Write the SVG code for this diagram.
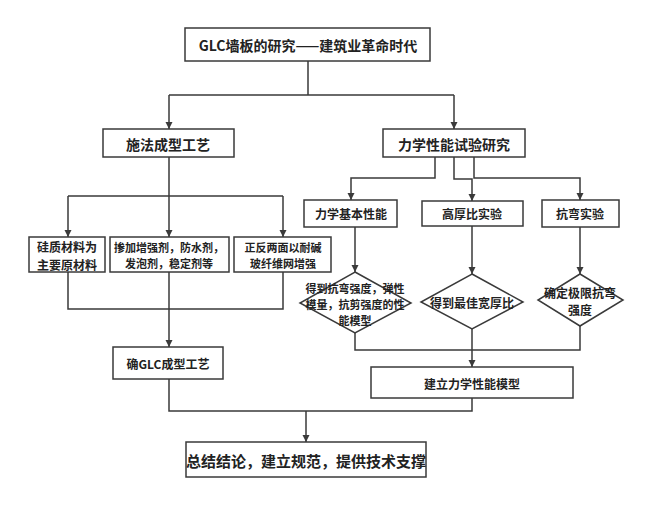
<svg xmlns="http://www.w3.org/2000/svg" width="660" height="514" viewBox="0 0 660 514">
<defs>
<marker id="ah" markerWidth="7" markerHeight="8" refX="7" refY="4" orient="auto" markerUnits="userSpaceOnUse">
<path d="M0,0.5 L7,4 L0,7.5 Z" fill="#3a3a3a"/>
</marker>
<style>
.box{fill:#fff;stroke:#3a3a3a;stroke-width:1.5}
.ln{fill:none;stroke:#3a3a3a;stroke-width:1.5}
.ar{fill:none;stroke:#3a3a3a;stroke-width:1.5;marker-end:url(#ah)}
text{font-family:"Noto Sans CJK SC","Noto Sans",sans-serif;font-weight:700;fill:#222;text-anchor:middle;dominant-baseline:central}
.t14{font-size:14px}
.t12{font-size:12px}
.t11{font-size:11px}
.t15{font-size:15px}
</style>
</defs>
<rect width="660" height="514" fill="#fff"/>
<g id="connectors">
<path class="ln" d="M308,61 V95 M169,95 H454"/>
<path class="ar" d="M169,95 V129"/>
<path class="ar" d="M454,95 V129"/>
<path class="ln" d="M169,157 V196 M68,196 H283"/>
<path class="ar" d="M68,196 V237"/>
<path class="ar" d="M169,196 V237"/>
<path class="ar" d="M283,196 V237"/>
<path class="ln" d="M68,272 V309 H283 V272"/>
<path class="ar" d="M169,272 V347"/>
<path class="ar" d="M435,157 V178 H351 V200"/>
<path class="ar" d="M454,157 V179 H472 V201"/>
<path class="ar" d="M474,157 V178 H580 V200"/>
<path class="ar" d="M355,227 V272"/>
<path class="ar" d="M472,226 V274"/>
<path class="ar" d="M580,227 V274"/>
<path class="ln" d="M355,333 V350 H580 V326"/>
<path class="ar" d="M472,329 V367"/>
<path class="ln" d="M169,379 V411 H472 V398"/>
<path class="ar" d="M306,411 V442"/>
</g>
<g id="n-title"><rect class="box" x="185" y="28" width="245" height="33"/><text class="t14" x="308" y="45">GLC墙板的研究——建筑业革命时代</text></g>
<g id="n-process"><rect class="box" x="103" y="129" width="131" height="28"/><text class="t14" x="168" y="143.5">施法成型工艺</text></g>
<g id="n-mech"><rect class="box" x="383" y="129" width="142" height="28"/><text class="t14" x="454" y="143.5">力学性能试验研究</text></g>
<g id="n-mat"><rect class="box" x="29" y="237" width="76" height="35"/><text class="t12"><tspan x="67" y="246">硅质材料为</tspan><tspan x="67" y="263.5">主要原材料</tspan></text></g>
<g id="n-add"><rect class="box" x="110" y="237" width="119" height="35"/><text class="t11"><tspan x="169" y="246.5">掺加增强剂，防水剂，</tspan><tspan x="169" y="262.5">发泡剂，稳定剂等</tspan></text></g>
<g id="n-mesh"><rect class="box" x="234" y="237" width="97" height="35"/><text class="t11"><tspan x="283" y="246.5">正反两面以耐碱</tspan><tspan x="283" y="262.5">玻纤维网增强</tspan></text></g>
<g id="n-basic"><rect class="box" x="304" y="200" width="93" height="27"/><text class="t12" x="351" y="213.5">力学基本性能</text></g>
<g id="n-ratio"><rect class="box" x="422" y="201" width="101" height="25"/><text class="t12" x="472" y="213.5">高厚比实验</text></g>
<g id="n-bend"><rect class="box" x="542" y="200" width="77" height="27"/><text class="t12" x="580" y="213.5">抗弯实验</text></g>
<g id="n-d1"><polygon class="box" points="355,272 411,303 355,333 300,303"/><text class="t11"><tspan x="355" y="287.5">得到抗弯强度，弹性</tspan><tspan x="355" y="303.5">模量，抗剪强度的性</tspan><tspan x="355" y="319.5">能模型</tspan></text></g>
<g id="n-d2"><polygon class="box" points="472,274 523,302 472,329 421,302"/><text class="t12" x="472" y="302">得到最佳宽厚比</text></g>
<g id="n-d3"><polygon class="box" points="580,274 623,300 580,326 538,300"/><text class="t12"><tspan x="580" y="291.5">确定极限抗弯</tspan><tspan x="580" y="309">强度</tspan></text></g>
<g id="n-glc"><rect class="box" x="113" y="347" width="110" height="32"/><text class="t12" x="168" y="363.5">确GLC成型工艺</text></g>
<g id="n-model"><rect class="box" x="371" y="367" width="202" height="31"/><text class="t12" x="472" y="383">建立力学性能模型</text></g>
<g id="n-final"><rect class="box" x="186" y="442" width="240" height="35"/><text class="t15" x="306" y="460">总结结论，建立规范，提供技术支撑</text></g>
</svg>
